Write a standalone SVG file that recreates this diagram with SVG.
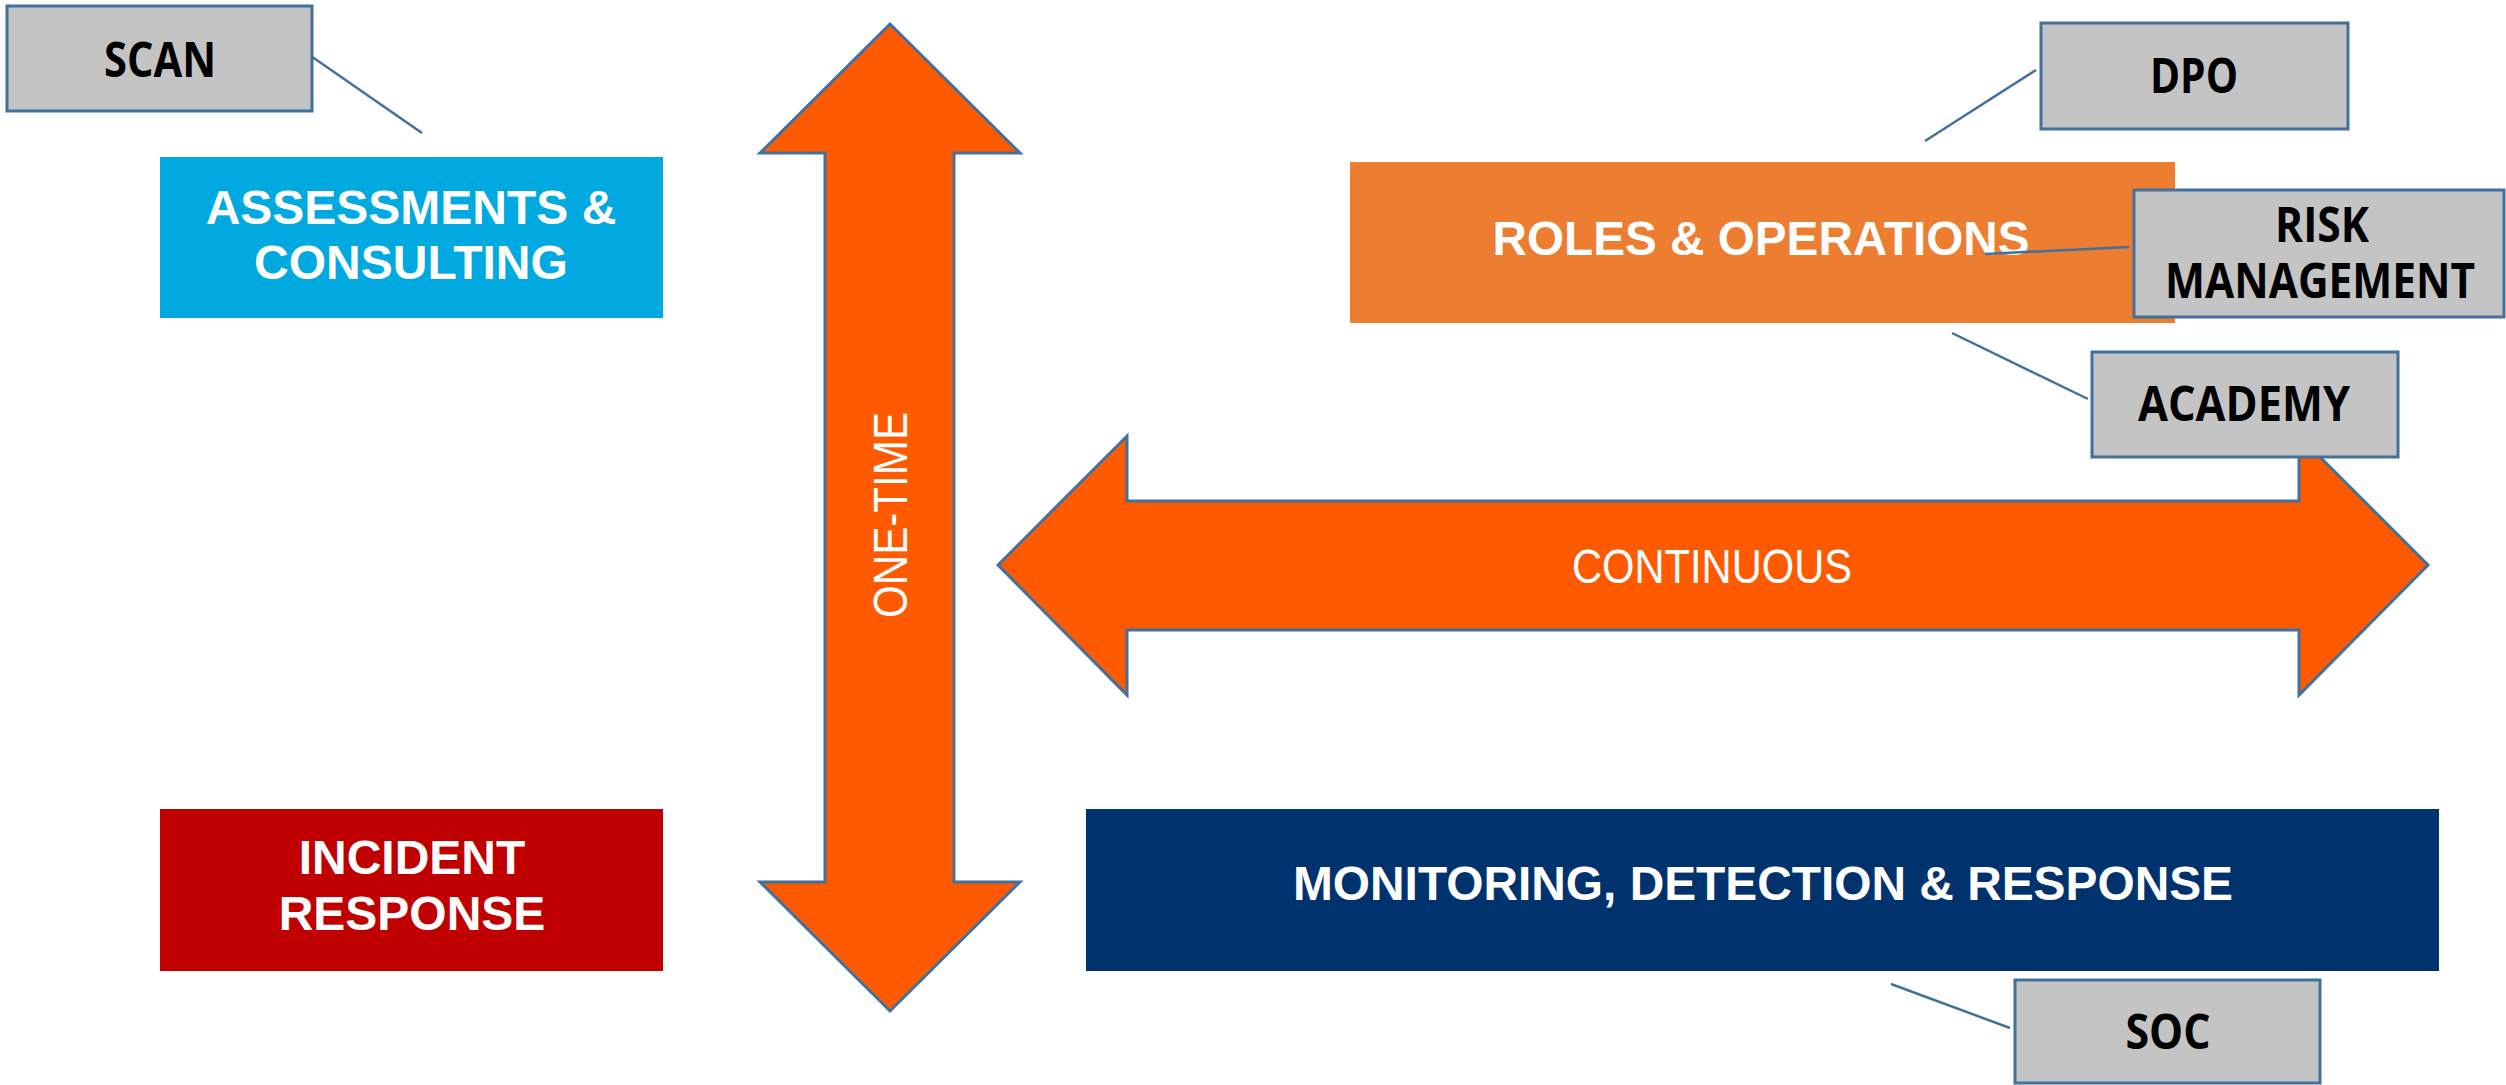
<svg xmlns="http://www.w3.org/2000/svg" width="2506" height="1085" viewBox="0 0 2506 1085">
<style>
  .arrow { fill: #FF5A00; stroke: #41719C; stroke-width: 3; stroke-linejoin: miter; }
  .main { stroke: none; }
  .mtxt { font-family: "Liberation Sans", Arial, sans-serif; font-weight: bold; font-size: 48px; fill: #FFFFFF; text-anchor: middle; }
  .atxt { font-family: "Liberation Sans", Arial, sans-serif; font-size: 48px; fill: #FFFFFF; text-anchor: middle; }
  .gbox { fill: #C4C4C4; stroke: #41719C; stroke-width: 3; }
  .gtxt { font-family: "Open Sans", "DejaVu Sans", sans-serif; font-weight: bold; font-size: 48px; fill: #000000; text-anchor: middle; }
  .conn { stroke: #41719C; stroke-width: 2.5; fill: none; }
</style>

<g id="arrow-onetime">
  <path class="arrow" d="M890,24 L1020,153 L954,153 L954,882 L1020,882 L890,1011 L760,882 L825,882 L825,153 L760,153 Z"/>
  <text class="atxt" transform="translate(890,515) rotate(-90)" x="0" y="17" textLength="206" lengthAdjust="spacingAndGlyphs">ONE-TIME</text>
</g>

<g id="arrow-continuous">
  <path class="arrow" d="M998,565 L1127,436 L1127,501 L2299,501 L2299,436 L2428,565 L2299,695 L2299,630 L1127,630 L1127,695 Z"/>
  <text class="atxt" x="1712" y="583" textLength="280" lengthAdjust="spacingAndGlyphs">CONTINUOUS</text>
</g>

<g id="assessments">
  <rect class="main" x="160" y="157" width="503" height="161" fill="#00A9E0"/>
  <text class="mtxt" x="411" y="224">ASSESSMENTS &amp;</text>
  <text class="mtxt" x="411" y="279">CONSULTING</text>
</g>

<g id="incident">
  <rect class="main" x="160" y="809" width="503" height="162" fill="#C00000"/>
  <text class="mtxt" x="412" y="874">INCIDENT</text>
  <text class="mtxt" x="412" y="930">RESPONSE</text>
</g>

<g id="roles">
  <rect class="main" x="1350" y="162" width="825" height="161" fill="#ED7D31"/>
  <text class="mtxt" x="1761" y="255" textLength="537" lengthAdjust="spacingAndGlyphs">ROLES &amp; OPERATIONS</text>
</g>

<g id="monitoring">
  <rect class="main" x="1086" y="809" width="1353" height="162" fill="#00326E"/>
  <text class="mtxt" x="1763" y="900" textLength="940" lengthAdjust="spacingAndGlyphs">MONITORING, DETECTION &amp; RESPONSE</text>
</g>

<g id="connectors">
  <line class="conn" x1="308" y1="54" x2="422" y2="133"/>
  <line class="conn" x1="2036" y1="70" x2="1925" y2="141"/>
  <line class="conn" x1="2129" y1="247" x2="1985" y2="254"/>
  <line class="conn" x1="1952" y1="333" x2="2088" y2="399"/>
  <line class="conn" x1="1891" y1="984" x2="2010" y2="1028"/>
</g>

<g id="scan">
  <rect class="gbox" x="7" y="6" width="305" height="105"/>
  <text class="gtxt" x="160" y="77" textLength="112" lengthAdjust="spacingAndGlyphs">SCAN</text>
</g>

<g id="dpo">
  <rect class="gbox" x="2041" y="23" width="307" height="106"/>
  <text class="gtxt" x="2194" y="93" textLength="88" lengthAdjust="spacingAndGlyphs">DPO</text>
</g>

<g id="risk">
  <rect class="gbox" x="2134" y="190" width="370" height="127"/>
  <text class="gtxt" x="2322" y="242" textLength="94" lengthAdjust="spacingAndGlyphs">RISK</text>
  <text class="gtxt" x="2320" y="298" textLength="310" lengthAdjust="spacingAndGlyphs">MANAGEMENT</text>
</g>

<g id="academy">
  <rect class="gbox" x="2092" y="352" width="306" height="105"/>
  <text class="gtxt" x="2244" y="421" textLength="212" lengthAdjust="spacingAndGlyphs">ACADEMY</text>
</g>

<g id="soc">
  <rect class="gbox" x="2015" y="980" width="305" height="103"/>
  <text class="gtxt" x="2168" y="1049" textLength="85" lengthAdjust="spacingAndGlyphs">SOC</text>
</g>
</svg>
